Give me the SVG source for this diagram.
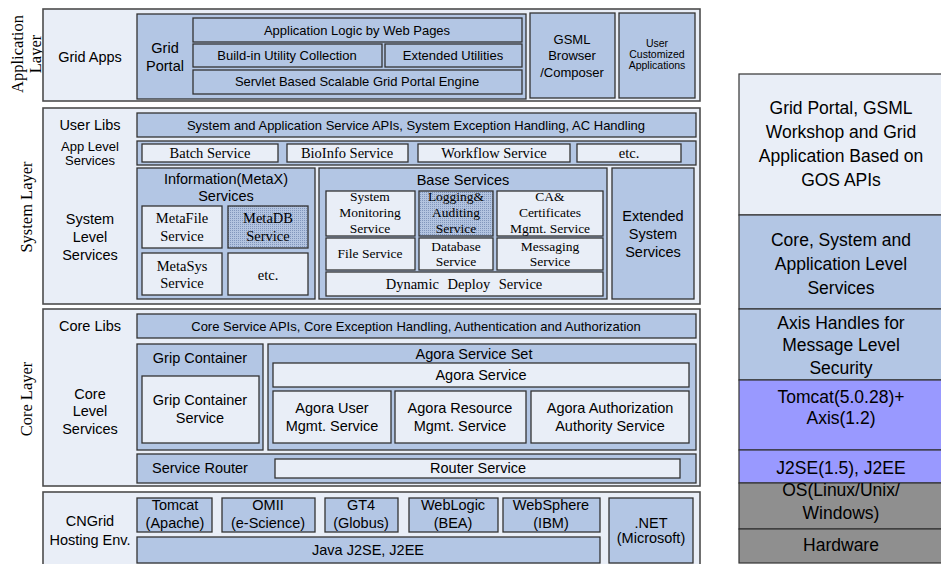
<svg xmlns="http://www.w3.org/2000/svg" width="941" height="564" viewBox="0 0 941 564">
<defs>
<pattern id="dots" width="2" height="2" patternUnits="userSpaceOnUse">
<rect width="2" height="2" fill="#B3C4E0"/>
<rect width="1" height="1" fill="#8196BC"/>
</pattern>
<style>
.layer{fill:#E9EEF7;stroke:#4d4d4d;stroke-width:1.6}
.mid{fill:#B3C6E4;stroke:#333;stroke-width:1.3}
.lt{fill:#E9EEF7;stroke:#333;stroke-width:1.3}
.hat{fill:url(#dots);stroke:#333;stroke-width:1.3}
.rs{stroke:#333;stroke-width:1.2}
text{fill:#000}
.s{font-family:"Liberation Sans",Arial,sans-serif;text-anchor:middle}
.r{font-family:"Liberation Serif","Times New Roman",serif;text-anchor:middle}
.f15{font-size:14.5px}
.f13{font-size:13px}
.r14{font-size:14.5px}
.r13{font-size:13.5px}
.big{font-size:17.5px}
.lay{font-size:16.5px}
.tiny{font-size:10.5px}
</style>
</defs>

<g id="layer-labels">
<text class="r lay" transform="translate(23,54) rotate(-90)">Application</text>
<text class="r lay" transform="translate(41,54) rotate(-90)">Layer</text>
<text class="r lay" transform="translate(32,207) rotate(-90)">System Layer</text>
<text class="r lay" transform="translate(32,399) rotate(-90)">Core Layer</text>
</g>

<g id="application-layer">
<rect class="layer" x="43" y="9" width="657" height="92"/>
<text class="s f15" x="90" y="62">Grid Apps</text>
<g id="grid-portal">
<rect class="mid" x="137" y="14" width="389" height="85"/>
<text class="s f15" x="165" y="53">Grid</text>
<text class="s f15" x="165" y="71">Portal</text>
</g>
<g id="app-logic"><rect class="mid" x="193" y="18" width="329" height="24"/><text class="s f13" x="357" y="35">Application Logic by Web Pages</text></g>
<g id="build-in"><rect class="mid" x="193" y="44" width="189" height="23"/><text class="s f13" x="287" y="60">Build-in Utility Collection</text></g>
<g id="extended-utilities"><rect class="mid" x="385" y="44" width="137" height="23"/><text class="s f13" x="453" y="60">Extended Utilities</text></g>
<g id="servlet"><rect class="mid" x="193" y="70" width="329" height="24"/><text class="s f13" x="357" y="86">Servlet Based Scalable Grid Portal Engine</text></g>
<g id="gsml">
<rect class="mid" x="530" y="13" width="85" height="85"/>
<text class="s f13" x="572" y="44">GSML</text>
<text class="s f13" x="572" y="60">Browser</text>
<text class="s f13" x="572" y="77">/Composer</text>
</g>
<g id="user-customized">
<rect class="mid" x="619" y="13" width="76" height="85"/>
<text class="s tiny" x="657" y="47">User</text>
<text class="s tiny" x="657" y="58">Customized</text>
<text class="s tiny" x="657" y="69">Applications</text>
</g>
</g>

<g id="system-layer">
<rect class="layer" x="43" y="108" width="657" height="196"/>
<text class="s f15" x="90" y="130">User Libs</text>
<text class="s f13" x="90" y="151">App Level</text>
<text class="s f13" x="90" y="165">Services</text>
<text class="s f15" x="90" y="224">System</text>
<text class="s f15" x="90" y="242">Level</text>
<text class="s f15" x="90" y="260">Services</text>
<g id="sys-apis"><rect class="mid" x="137" y="113" width="559" height="24"/><text class="s f13" x="416" y="130">System and Application Service APIs, System Exception Handling, AC Handling</text></g>
<g id="app-level-row">
<rect class="mid" x="137" y="141" width="559" height="24"/>
<rect class="lt" x="142" y="144" width="136" height="18"/><text class="r r14" x="210" y="158">Batch Service</text>
<rect class="lt" x="287" y="144" width="121" height="18"/><text class="r r14" x="347" y="158">BioInfo Service</text>
<rect class="lt" x="418" y="144" width="152" height="18"/><text class="r r14" x="494" y="158">Workflow Service</text>
<rect class="lt" x="577" y="144" width="104" height="18"/><text class="r r14" x="629" y="158">etc.</text>
</g>
<g id="information-services">
<rect class="mid" x="137" y="168" width="178" height="131"/>
<text class="s f15" x="226" y="184">Information(MetaX)</text>
<text class="s f15" x="226" y="201">Services</text>
<rect class="lt" x="142" y="206" width="80" height="42"/><text class="r r14" x="182" y="223">MetaFile</text><text class="r r14" x="182" y="241">Service</text>
<rect class="hat" x="228" y="206" width="80" height="42"/><text class="r r14" x="268" y="223">MetaDB</text><text class="r r14" x="268" y="241">Service</text>
<rect class="lt" x="142" y="253" width="80" height="42"/><text class="r r14" x="182" y="271">MetaSys</text><text class="r r14" x="182" y="288">Service</text>
<rect class="lt" x="228" y="253" width="80" height="42"/><text class="r r14" x="268" y="280">etc.</text>
</g>
<g id="base-services">
<rect class="mid" x="319" y="168" width="288" height="131"/>
<text class="s f15" x="463" y="185">Base Services</text>
<rect class="lt" x="326" y="191" width="89" height="45"/>
<text class="r r13" x="370" y="201">System</text><text class="r r13" x="370" y="217">Monitoring</text><text class="r r13" x="370" y="233">Service</text>
<rect class="hat" x="419" y="191" width="74" height="45"/>
<text class="r r13" x="456" y="201">Logging&amp;</text><text class="r r13" x="456" y="217">Auditing</text><text class="r r13" x="456" y="233">Service</text>
<rect class="lt" x="497" y="191" width="106" height="45"/>
<text class="r r13" x="550" y="201">CA&amp;</text><text class="r r13" x="550" y="217">Certificates</text><text class="r r13" x="550" y="233">Mgmt. Service</text>
<rect class="lt" x="326" y="238" width="89" height="32"/><text class="r r13" x="370" y="258">File Service</text>
<rect class="lt" x="419" y="238" width="74" height="32"/><text class="r r13" x="456" y="251">Database</text><text class="r r13" x="456" y="266">Service</text>
<rect class="lt" x="497" y="238" width="106" height="32"/><text class="r r13" x="550" y="251">Messaging</text><text class="r r13" x="550" y="266">Service</text>
<rect class="lt" x="326" y="272" width="277" height="24"/><text class="r r14" x="464" y="289" style="word-spacing:5px">Dynamic Deploy Service</text>
</g>
<g id="extended-system">
<rect class="mid" x="612" y="168" width="82" height="131"/>
<text class="s f15" x="653" y="221">Extended</text>
<text class="s f15" x="653" y="239">System</text>
<text class="s f15" x="653" y="257">Services</text>
</g>
</g>

<g id="core-layer">
<rect class="layer" x="43" y="309" width="657" height="177"/>
<text class="s f15" x="90" y="331">Core Libs</text>
<text class="s f15" x="90" y="399">Core</text>
<text class="s f15" x="90" y="416">Level</text>
<text class="s f15" x="90" y="434">Services</text>
<g id="core-apis"><rect class="mid" x="137" y="314" width="559" height="24"/><text class="s f13" x="416" y="331">Core Service APIs, Core Exception Handling, Authentication and Authorization</text></g>
<g id="grip-container">
<rect class="mid" x="137" y="344" width="126" height="106"/>
<text class="s f15" x="200" y="363">Grip Container</text>
<rect class="lt" x="142" y="376" width="117" height="67"/>
<text class="s f15" x="200" y="405">Grip Container</text>
<text class="s f15" x="200" y="423">Service</text>
</g>
<g id="agora-set">
<rect class="mid" x="268" y="344" width="428" height="106"/>
<text class="s f15" x="474" y="359">Agora Service Set</text>
<rect class="lt" x="273" y="363" width="416" height="24"/><text class="s f15" x="481" y="380">Agora Service</text>
<rect class="lt" x="273" y="391" width="118" height="52"/><text class="s f15" x="332" y="413">Agora User</text><text class="s f15" x="332" y="431">Mgmt. Service</text>
<rect class="lt" x="395" y="391" width="131" height="52"/><text class="s f15" x="460" y="413">Agora Resource</text><text class="s f15" x="460" y="431">Mgmt. Service</text>
<rect class="lt" x="531" y="391" width="158" height="52"/><text class="s f15" x="610" y="413">Agora Authorization</text><text class="s f15" x="610" y="431">Authority Service</text>
</g>
<g id="service-router">
<rect class="mid" x="137" y="454" width="559" height="29"/>
<text class="s f15" x="200" y="473">Service Router</text>
<rect class="lt" x="275" y="459" width="405" height="19"/><text class="s f15" x="478" y="473">Router Service</text>
</g>
</g>

<g id="cngrid-layer">
<rect class="layer" x="43" y="492" width="657" height="80"/>
<text class="s f15" x="90" y="526">CNGrid</text>
<text class="s f15" x="90" y="545">Hosting Env.</text>
<g id="tomcat"><rect class="mid" x="137" y="498" width="75" height="34"/><text class="s f15" x="175" y="510">Tomcat</text><text class="s f15" x="175" y="528">(Apache)</text></g>
<g id="omii"><rect class="mid" x="222" y="498" width="93" height="34"/><text class="s f15" x="268" y="510">OMII</text><text class="s f15" x="268" y="528">(e-Science)</text></g>
<g id="gt4"><rect class="mid" x="325" y="498" width="73" height="34"/><text class="s f15" x="361" y="510">GT4</text><text class="s f15" x="361" y="528">(Globus)</text></g>
<g id="weblogic"><rect class="mid" x="409" y="498" width="89" height="34"/><text class="s f15" x="453" y="510">WebLogic</text><text class="s f15" x="453" y="528">(BEA)</text></g>
<g id="websphere"><rect class="mid" x="503" y="498" width="97" height="34"/><text class="s f15" x="551" y="510">WebSphere</text><text class="s f15" x="551" y="528">(IBM)</text></g>
<g id="java"><rect class="mid" x="137" y="537" width="463" height="26"/><text class="s f15" x="368" y="555">Java J2SE, J2EE</text></g>
<g id="dotnet"><rect class="mid" x="609" y="498" width="84" height="65"/><text class="s f15" x="651" y="528">.NET</text><text class="s f15" x="651" y="543">(Microsoft)</text></g>
</g>

<g id="connectors"/>

<g id="stack">
<g id="stack-portal"><rect class="rs" x="739" y="74" width="210" height="141" fill="#E9EEF7"/>
<text class="s big" x="841" y="114">Grid Portal, GSML</text>
<text class="s big" x="841" y="138">Workshop and Grid</text>
<text class="s big" x="841" y="162">Application Based on</text>
<text class="s big" x="841" y="186">GOS APIs</text></g>
<g id="stack-services"><rect class="rs" x="739" y="215" width="210" height="94" fill="#B3C6E4"/>
<text class="s big" x="841" y="246">Core, System and</text>
<text class="s big" x="841" y="270">Application Level</text>
<text class="s big" x="841" y="294">Services</text></g>
<g id="stack-axis"><rect class="rs" x="739" y="309" width="210" height="71" fill="#B3C6E4"/>
<text class="s big" x="841" y="329">Axis Handles for</text>
<text class="s big" x="841" y="351">Message Level</text>
<text class="s big" x="841" y="374">Security</text></g>
<g id="stack-tomcat"><rect class="rs" x="739" y="380" width="210" height="70" fill="#9999FF"/>
<text class="s big" x="841" y="403">Tomcat(5.0.28)+</text>
<text class="s big" x="841" y="424">Axis(1.2)</text></g>
<g id="stack-j2se"><rect class="rs" x="739" y="450" width="210" height="33" fill="#9999FF"/>
<text class="s big" x="841" y="474">J2SE(1.5), J2EE</text></g>
<g id="stack-os"><rect class="rs" x="739" y="483" width="210" height="46" fill="#8F8F8F"/>
<text class="s big" x="841" y="496">OS(Linux/Unix/</text>
<text class="s big" x="841" y="519">Windows)</text></g>
<g id="stack-hw"><rect class="rs" x="739" y="529" width="210" height="34" fill="#8F8F8F"/>
<text class="s big" x="841" y="551">Hardware</text></g>
</g>
</svg>
